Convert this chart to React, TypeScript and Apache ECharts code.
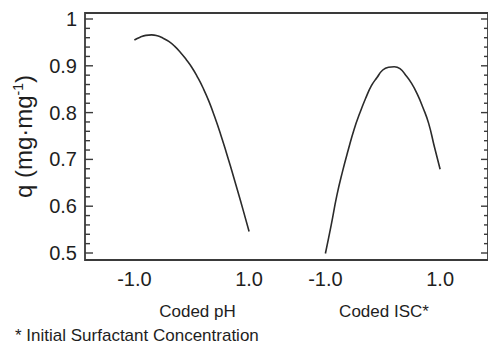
import React, { useEffect, useRef } from "react";
import * as echarts from "echarts";

// Coded factor levels
const phCoded = [-1.0, -0.9, -0.8, -0.7, -0.6, -0.5, -0.4, -0.3, -0.2, -0.1, 0.0, 0.1, 0.2, 0.3, 0.4, 0.5, 0.6, 0.7, 0.8, 0.9, 1.0];
const qPH = [0.955, 0.961, 0.965, 0.966, 0.964, 0.959, 0.952, 0.942, 0.929, 0.914, 0.897, 0.876, 0.852, 0.824, 0.791, 0.755, 0.716, 0.675, 0.633, 0.590, 0.546];

const iscCoded = [-1.0, -0.9, -0.8, -0.7, -0.6, -0.5, -0.4, -0.3, -0.2, -0.1, 0.0, 0.1, 0.2, 0.3, 0.4, 0.5, 0.6, 0.7, 0.8, 0.9, 1.0];
const qISC = [0.499, 0.559, 0.623, 0.675, 0.721, 0.764, 0.799, 0.830, 0.857, 0.875, 0.891, 0.897, 0.898, 0.894, 0.880, 0.863, 0.840, 0.811, 0.777, 0.727, 0.679];

const yMajorTicks = [0.5, 0.6, 0.7, 0.8, 0.9, 1.0];
const yMinorTicks = [0.52, 0.54, 0.56, 0.58, 0.62, 0.64, 0.66, 0.68, 0.72, 0.74, 0.76, 0.78, 0.82, 0.84, 0.86, 0.88, 0.92, 0.94, 0.96, 0.98];
const xTickValues = [-1.0, 1.0];

const FONT = "'Liberation Sans', Arial, sans-serif";
const AXIS_COLOR = "#3a3a3a";
const TEXT_COLOR = "#1e1e1e";

export default function App() {
  const ref = useRef<HTMLDivElement>(null);

  useEffect(() => {
    document.body.style.margin = "0";
    const chart = echarts.init(ref.current!, null, { renderer: "svg" });

    const yMin = 0.5 - 7 / 468;
    const yMax = 1.0 + 6 / 468;
    const phMin = -1 - 49.5 / 57.5;
    const phMax = phMin + 404 / 57.5;
    const iscMin = -1 - 241 / 57.5;
    const iscMax = -1 + 163 / 57.5;

    const labelStyle = {
      customValues: xTickValues,
      formatter: (v: number) => v.toFixed(1),
      fontSize: 20,
      fontFamily: FONT,
      color: TEXT_COLOR,
      margin: 9,
    };

    const textGraphics: any[] = [
      {
        type: "text",
        x: 197.5,
        y: 311,
        style: { text: "Coded pH", fontSize: 17, fontFamily: FONT, fill: TEXT_COLOR, align: "center", verticalAlign: "middle", textAlign: "center", textVerticalAlign: "middle" },
      },
      {
        type: "text",
        x: 384,
        y: 311,
        style: { text: "Coded ISC*", fontSize: 17, fontFamily: FONT, fill: TEXT_COLOR, align: "center", verticalAlign: "middle", textAlign: "center", textVerticalAlign: "middle" },
      },
      {
        type: "text",
        x: 15,
        y: 335,
        style: { text: "* Initial Surfactant Concentration", fontSize: 17, fontFamily: FONT, fill: TEXT_COLOR, align: "left", verticalAlign: "middle", textAlign: "left", textVerticalAlign: "middle" },
      },
    ];

    const option: any = {
      animation: false,
      grid: {
        left: 85,
        right: -1,
        top: 13,
        bottom: 86,
        containLabel: false,
        show: true,
        borderColor: AXIS_COLOR,
        borderWidth: 1.8,
        backgroundColor: "transparent",
      },
      xAxis: [
        {
          type: "value",
          position: "bottom",
          min: phMin,
          max: phMax,
          axisLine: { show: false, onZero: false },
          axisTick: { show: false },
          axisLabel: labelStyle,
          splitLine: { show: false },
        },
        {
          type: "value",
          position: "bottom",
          min: iscMin,
          max: iscMax,
          axisLine: { show: false, onZero: false },
          axisTick: { show: false },
          axisLabel: labelStyle,
          splitLine: { show: false },
        },
      ],
      yAxis: [
        {
          type: "value",
          position: "left",
          min: yMin,
          max: yMax,
          axisLine: { show: false, onZero: false },
          axisTick: { show: false },
          axisLabel: {
            customValues: yMajorTicks,
            formatter: (v: number) => (Math.abs(v - 1) < 1e-9 ? "1" : v.toFixed(1)),
            fontSize: 20,
            fontFamily: FONT,
            color: TEXT_COLOR,
            margin: 8,
          },
          splitLine: { show: false },
          name: "{a|q (mg·mg}{b|-1}{a|)}",
          nameLocation: "middle",
          nameGap: 50,
          nameTextStyle: {
            color: TEXT_COLOR,
            fontFamily: FONT,
            rich: {
              a: { fontSize: 24, fontFamily: FONT, color: TEXT_COLOR },
              b: { fontSize: 14, fontFamily: FONT, color: TEXT_COLOR, verticalAlign: "top" },
            },
          },
        },
      ],
      series: [
        {
          type: "line",
          xAxisIndex: 0,
          yAxisIndex: 0,
          data: phCoded.map((x, i) => [x, qPH[i]]),
          smooth: true,
          showSymbol: false,
          symbol: "none",
          lineStyle: { color: "#2b2b2b", width: 1.6 },
        },
        {
          type: "line",
          xAxisIndex: 1,
          yAxisIndex: 0,
          data: iscCoded.map((x, i) => [x, qISC[i]]),
          smooth: true,
          showSymbol: false,
          symbol: "none",
          lineStyle: { color: "#2b2b2b", width: 1.6 },
        },
      ],
      graphic: textGraphics,
    };

    chart.setOption(option);

    // Frame bottom edge and tick marks positioned through the chart's own scales
    const leftPx = chart.convertToPixel({ xAxisIndex: 0 }, phMin) as number;
    const rightPx = Math.min(chart.convertToPixel({ xAxisIndex: 0 }, phMax) as number, 488);
    const bottomPx = chart.convertToPixel({ yAxisIndex: 0 }, yMin) as number;
    const lineStyle = { stroke: AXIS_COLOR, lineWidth: 1.4 };
    const tickLines: any[] = [];
    const addTick = (v: number, lLen: number, rLen: number) => {
      const y = chart.convertToPixel({ yAxisIndex: 0 }, v) as number;
      tickLines.push({ type: "line", z: 100, silent: true, shape: { x1: leftPx, y1: y, x2: leftPx + lLen, y2: y }, style: lineStyle });
      tickLines.push({ type: "line", z: 100, silent: true, shape: { x1: rightPx - rLen, y1: y, x2: rightPx, y2: y }, style: lineStyle });
    };
    yMajorTicks.forEach((v) => addTick(v, 8, 7));
    yMinorTicks.forEach((v) => addTick(v, 5, 4));
    tickLines.push({
      type: "line",
      z: 100,
      silent: true,
      shape: { x1: leftPx, y1: bottomPx, x2: rightPx, y2: bottomPx },
      style: { stroke: AXIS_COLOR, lineWidth: 1.8 },
    });

    chart.setOption({ graphic: [...textGraphics, ...tickLines] });

    return () => chart.dispose();
  }, []);

  return (
    <div
      ref={ref}
      style={{ position: "fixed", left: 0, top: 0, width: 488, height: 346, background: "#fff" }}
    />
  );
}
